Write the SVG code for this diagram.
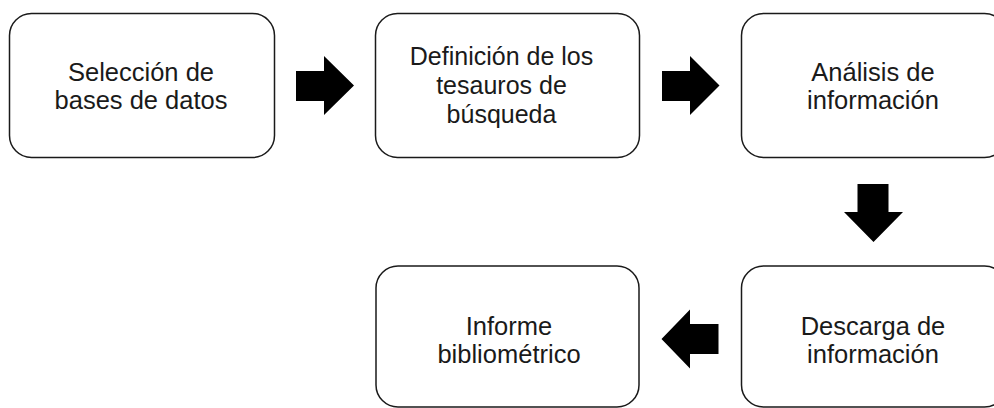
<svg xmlns="http://www.w3.org/2000/svg" width="994" height="408" viewBox="0 0 994 408">
<style>
.box{fill:#fff;stroke:#1a1a1a;stroke-width:1.5}
.lbl{font-family:"Liberation Sans",Arial,sans-serif;font-size:25.5px;fill:#1a1a1a;text-anchor:middle}
.sm{font-size:25px}
.arr{fill:#000}
</style>
<rect width="994" height="408" fill="#fff"/>
<g id="n1">
<rect class="box" x="9.5" y="13.5" width="265" height="144" rx="22"/>
<text class="lbl" x="141" y="80.5">Selección de</text>
<text class="lbl" x="141" y="108.5">bases de datos</text>
</g>
<g id="n2">
<rect class="box" x="375.5" y="13.5" width="264" height="144" rx="22"/>
<text class="lbl sm" x="501.5" y="65">Definición de los</text>
<text class="lbl sm" x="501.5" y="94">tesauros de</text>
<text class="lbl sm" x="501.5" y="123">búsqueda</text>
</g>
<g id="n3">
<rect class="box" x="741.5" y="13.5" width="265" height="144" rx="22"/>
<text class="lbl" x="873" y="80.5">Análisis de</text>
<text class="lbl" x="873" y="108.5">información</text>
</g>
<g id="n4">
<rect class="box" x="741.5" y="266" width="265" height="141" rx="22"/>
<text class="lbl" x="873" y="335">Descarga de</text>
<text class="lbl" x="873" y="363">información</text>
</g>
<g id="n5">
<rect class="box" x="376" y="266" width="263" height="141" rx="22"/>
<text class="lbl" x="509" y="335">Informe</text>
<text class="lbl" x="509" y="363">bibliométrico</text>
</g>
<g id="connectors">
<polygon class="arr" points="296,71 324,71 324,56 354,85.5 324,115 324,101 296,101"/>
<polygon class="arr" points="662,71 690,71 690,56 719.5,85.5 690,115 690,101 662,101"/>
<polygon class="arr" points="857.5,184 888.5,184 888.5,212 903,212 873.5,242 844,212 857.5,212"/>
<polygon class="arr" points="718.5,324 690,324 690,309.5 661.5,339 690,368.5 690,354 718.5,354"/>
</g>
</svg>
